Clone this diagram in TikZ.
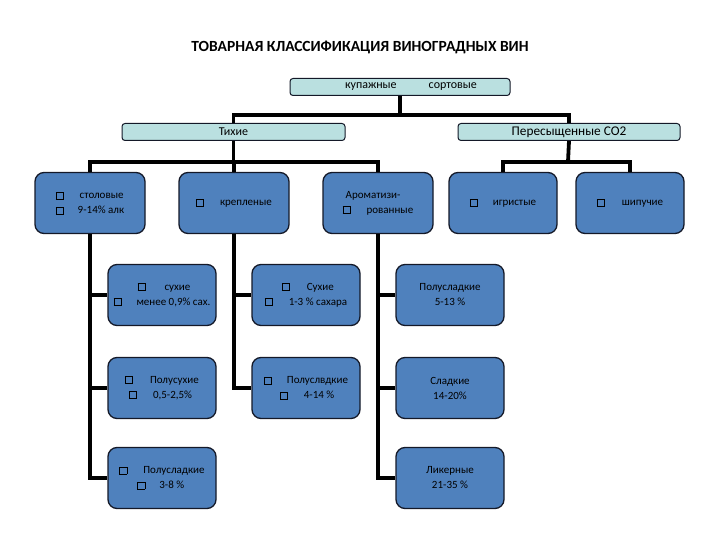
\documentclass[tikz,border=0pt]{standalone}
\usepackage{fontspec}
\setmainfont{Carlito}
\definecolor{boxblue}{RGB}{79,129,189}
\definecolor{boxcyan}{RGB}{186,224,224}
\definecolor{edgedark}{RGB}{20,25,40}
\newcommand{\bx}{{\fboxsep=0pt\fboxrule=0.7pt\fbox{\rule{0pt}{6.5pt}\hspace{6.5pt}}}}
\begin{document}
\begin{tikzpicture}[x=1pt,y=-1pt,
  bluebox/.style={rectangle, rounded corners=9pt, fill=boxblue, draw=edgedark, line width=1.3pt,
     minimum width=108pt, minimum height=61pt, inner sep=1pt,
     font=\fontsize{11}{15}\selectfont, text=black},
  cyanbox/.style={rectangle, rounded corners=3pt, fill=boxcyan, draw=edgedark, line width=1pt,
     minimum height=17pt, inner sep=0pt, text=black},
  conn/.style={line width=3.8pt, black}]
\useasboundingbox (0,0) rectangle (720,540);

\node (title) at (360,47) {\fontsize{15.5}{18}\selectfont\bfseries ТОВАРНАЯ КЛАССИФИКАЦИЯ ВИНОГРАДНЫХ ВИН};

\node[cyanbox, minimum width=220pt, font=\fontsize{12}{13}\selectfont] (top) at (400,87)
  {\hspace{22pt}купажные\hspace{32pt}сортовые};
\node[cyanbox, minimum width=223pt, font=\fontsize{12}{13}\selectfont] (tihie) at (233.5,132) {Тихие};
\node[cyanbox, minimum width=222pt, font=\fontsize{13.3}{14}\selectfont] (peres) at (569,132) {Пересыщенные CO2};

% level 3
\node[bluebox, minimum width=110pt, align=left] (stol) at (90,203)
  {\bx\hspace{16pt}столовые\\\bx\hspace{14pt}9-14\% алк};
\node[bluebox, minimum width=110pt] (krep) at (234,203) {\bx\hspace{16pt}крепленые};
\node[bluebox, minimum width=110pt, align=left] (arom) at (378,203)
  {\hspace{3pt}Ароматизи-\\\bx\hspace{16pt}рованные};
\node[bluebox, minimum width=108pt] (igr) at (503,203) {\bx\hspace{15pt}игристые};
\node[bluebox, minimum width=108pt] (ship) at (630,203) {\bx\hspace{17pt}шипучие};

% lower boxes
\node[bluebox, align=left] (b11) at (162,295)
  {\hspace{24pt}\bx\hspace{19pt}сухие\\\bx\hspace{15pt}менее 0,9\% сах.};
\node[bluebox, align=left] (b12) at (162,388)
  {\bx\hspace{17pt}Полусухие\\\hspace{4pt}\bx\hspace{16pt}0,5-2,5\%};
\node[bluebox, align=left] (b13) at (162,478)
  {\bx\hspace{16pt}Полусладкие\\\hspace{18pt}\bx\hspace{14pt}3-8 \%};
\node[bluebox, align=left] (b21) at (306,295)
  {\hspace{17pt}\bx\hspace{17pt}Сухие\\\bx\hspace{16pt}1-3 \% сахара};
\node[bluebox, align=left] (b22) at (306,388)
  {\bx\hspace{15pt}Полуслвдкие\\\hspace{16pt}\bx\hspace{16pt}4-14 \%};
\node[bluebox, align=center] (b31) at (450,295) {Полусладкие\\5-13 \%};
\node[bluebox, align=center] (b32) at (450,388) {Сладкие\\14-20\%};
\node[bluebox, align=center] (b33) at (450,478) {Ликерные\\21-35 \%};

% junctions
\coordinate (j1) at (400,115);
\coordinate (j2) at (233.5,162);
\coordinate (j3) at (568,162);

\draw[conn] (top.south) -- (j1);
\draw[conn] (tihie.north) |- (j1);
\draw[conn] (peres.north) |- (j1);

\draw[conn] (tihie.south) -- (j2);
\draw[conn] (stol.north) |- (j2);
\draw[conn] (krep.north) |- (j2);
\draw[conn] (arom.north) |- (j2);

\draw[conn] (peres.south) -- (j3);
\draw[conn] (igr.north) |- (j3);
\draw[conn] (ship.north) |- (j3);

\draw[conn] (stol.south) |- (b11.west);
\draw[conn] (stol.south) |- (b12.west);
\draw[conn] (stol.south) |- (b13.west);
\draw[conn] (krep.south) |- (b21.west);
\draw[conn] (krep.south) |- (b22.west);
\draw[conn] (arom.south) |- (b31.west);
\draw[conn] (arom.south) |- (b32.west);
\draw[conn] (arom.south) |- (b33.west);
\end{tikzpicture}
\end{document}
